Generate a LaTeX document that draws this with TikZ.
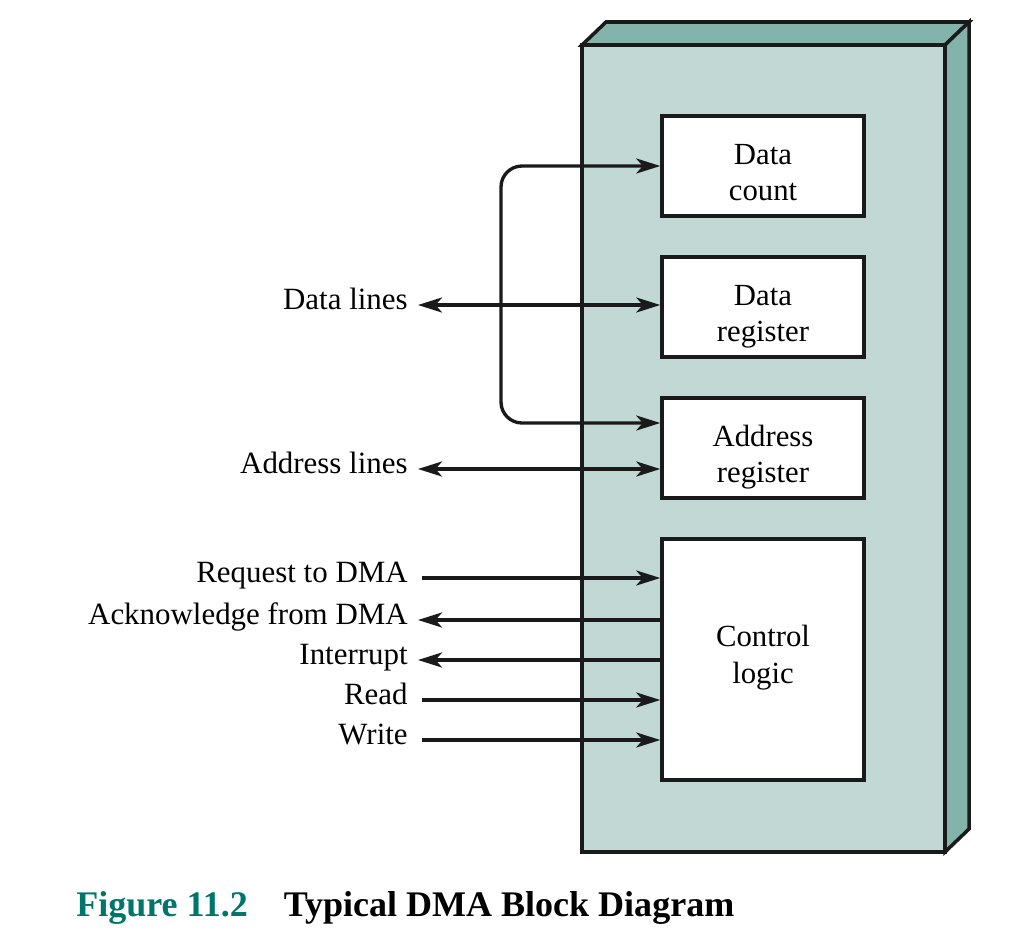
\documentclass[tikz,border=0pt]{standalone}
\usepackage{fontspec}
\setmainfont{Liberation Serif}
\usetikzlibrary{arrows.meta,calc}
\definecolor{panel}{HTML}{C2D8D5}
\definecolor{paneldark}{HTML}{84B3AC}
\definecolor{figteal}{HTML}{00756B}
\definecolor{ink}{HTML}{1A1A1A}

\begin{document}
\begin{tikzpicture}[x=0.02cm, y=-0.02cm,
  reg/.style={rectangle, draw=ink, line width=2pt, fill=white, minimum width=4.04cm, minimum height=2cm, align=center, text height=1.4cm, text depth=0pt, font=\fontsize{17.5}{21}\selectfont},
  lbl/.style={anchor=mid east, inner sep=0pt, font=\fontsize{17.6}{21}\selectfont},
  arr/.style={-{Stealth[length=0.48cm, width=0.3cm, inset=0.13cm]}, ink, line width=1.9pt},
  dbl/.style={{Stealth[length=0.48cm, width=0.3cm, inset=0.13cm]}-{Stealth[length=0.48cm, width=0.3cm, inset=0.13cm]}, ink, line width=1.9pt}
]
  \useasboundingbox (0,0) rectangle (1018,946);
  % DMA module body
  \draw[ink, line width=2pt, fill=paneldark] (582,45) -- (606,22) -- (969,22) -- (945,45) -- cycle;
  \draw[ink, line width=2pt, fill=paneldark] (945,45) -- (969,22) -- (969,829) -- (945,852) -- cycle;
  \draw[ink, line width=2pt, fill=panel] (582,45) rectangle (945,852);
  % registers
  \node[reg] (dc) at (763,166) {Data\\count};
  \node[reg] (dr) at (763,307) {Data\\register};
  \node[reg] (ar) at (763,448) {Address\\register};
  \node[reg, minimum height=4.82cm, text height=0.94cm] (cl) at (763,659.5) {Control\\logic};
  % labels
  \node[lbl] (dl) at (408,305) {Data lines};
  \node[lbl] (al) at (408,469) {Address lines};
  \node[lbl] (rq) at (408,578) {Request to DMA};
  \node[lbl] (ack) at (408,620) {Acknowledge from DMA};
  \node[lbl] (irq) at (408,660) {Interrupt};
  \node[lbl] (rd) at (408,700) {Read};
  \node[lbl] (wr) at (408,740) {Write};
  \coordinate (bus) at (501,305);
  % connectors
  \draw[dbl] ([xshift=0.2cm]dl.mid east) -- (dl.mid east -| dr.west);
  \draw[arr, rounded corners=0.42cm] (bus) |- (dc.west);
  \draw[arr, rounded corners=0.42cm] (bus) |- ([yshift=0.5cm]ar.west);
  \draw[dbl] ([xshift=0.2cm]al.mid east) -- (al.mid east -| ar.west);
  \draw[arr] ([xshift=0.28cm]rq.mid east) -- (rq.mid east -| cl.west);
  \draw[arr] (ack.mid east -| cl.west) -- ([xshift=0.2cm]ack.mid east);
  \draw[arr] (irq.mid east -| cl.west) -- ([xshift=0.2cm]irq.mid east);
  \draw[arr] ([xshift=0.28cm]rd.mid east) -- (rd.mid east -| cl.west);
  \draw[arr] ([xshift=0.28cm]wr.mid east) -- (wr.mid east -| cl.west);
  % caption
  \node[anchor=base west, inner sep=0pt, font=\bfseries\fontsize{20.5}{24}\selectfont] (cap) at (76,916) {\textcolor{figteal}{Figure 11.2}\hspace{0.72cm}Typical DMA Block Diagram};
\end{tikzpicture}
\end{document}
